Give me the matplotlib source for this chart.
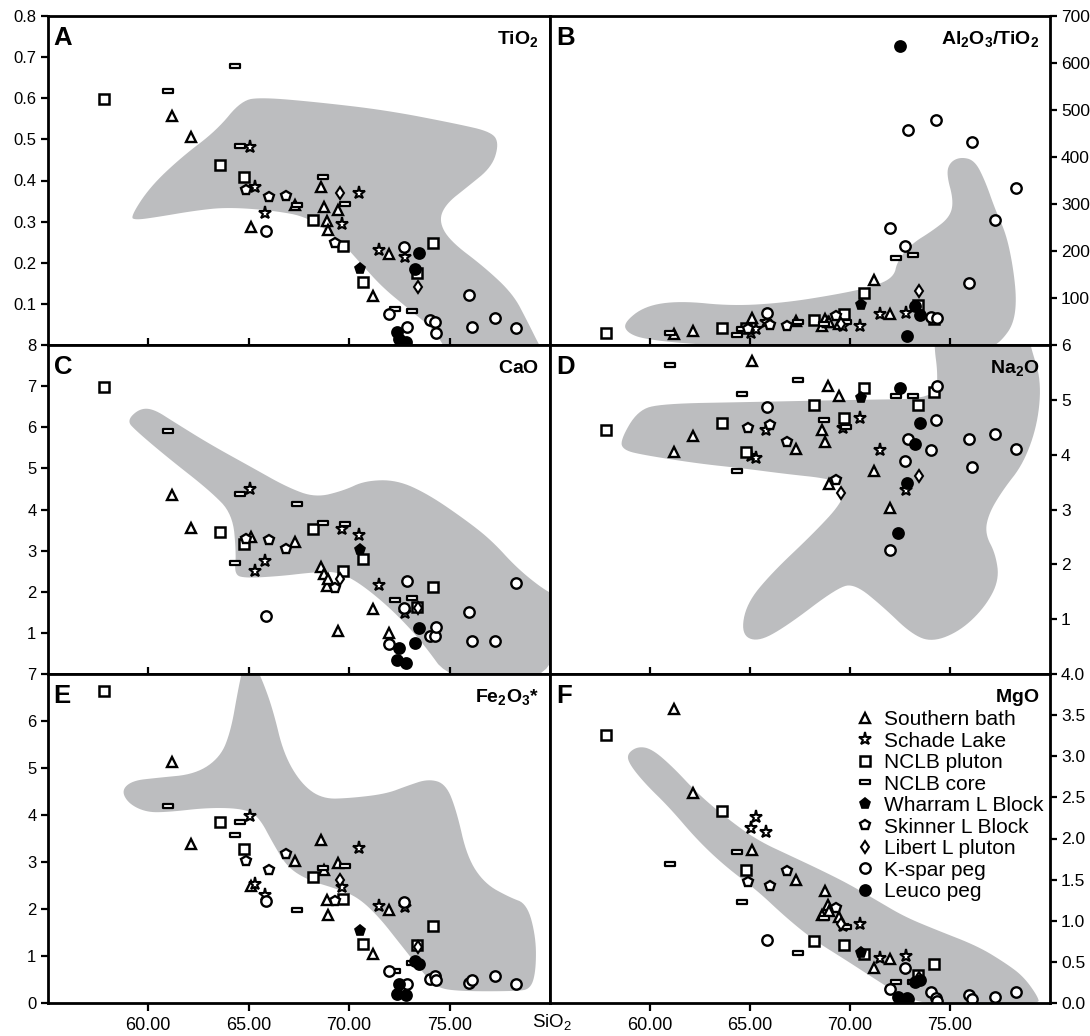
import numpy as np
import matplotlib.pyplot as plt
from matplotlib.path import Path

plt.rcParams['font.family'] = ['Liberation Sans', 'DejaVu Sans']
plt.rcParams['mathtext.fontset'] = 'custom'
plt.rcParams['mathtext.rm'] = 'Liberation Sans'
plt.rcParams['mathtext.it'] = 'Liberation Sans:italic'
plt.rcParams['mathtext.bf'] = 'Liberation Sans:bold'

nan = np.nan

# Southern batholith
sb_sio2 = [61.2, 62.15, 65.1, 67.3, 68.6, 68.75, 68.9, 68.95, 69.45, 71.2, 72.0]
sb_tio2 = [0.558, 0.506, 0.288, 0.34, 0.384, 0.335, 0.301, 0.280, 0.328, 0.120, 0.221]
sb_alti = [23, 30, 57, 52, 41, 55, 50, 48, 45, 138, 67]
sb_cao = [4.35, 3.54, 3.32, 3.20, 2.59, 2.42, 2.14, 2.30, 1.04, 1.59, 1.00]
sb_na2o = [4.05, 4.34, 5.71, 4.11, 4.45, 4.23, 5.25, 3.47, 5.07, 3.70, 3.03]
sb_fe2o3 = [5.12, 3.39, 2.50, 3.03, 3.47, 2.84, 2.20, 1.88, 2.97, 1.05, 1.98]
sb_mgo = [3.58, 2.55, 1.86, 1.49, 1.07, 1.36, 1.19, 1.12, 1.04, 0.42, 0.53]

# Schade Lake
sl_sio2 = [65.05, 65.3, 65.8, 69.65, 70.5, 71.5, 72.8]
sl_tio2 = [0.481, 0.385, 0.321, 0.294, 0.369, 0.231, 0.213]
sl_alti = [26, 33, 48, 41, 41, 65, 69]
sl_cao = [4.50, 2.50, 2.75, 3.52, 3.37, 2.16, 1.49]
sl_na2o = [3.98, 3.94, 4.45, 4.49, 4.67, 4.08, 3.35]
sl_fe2o3 = [3.97, 2.54, 2.29, 2.46, 3.30, 2.06, 2.05]
sl_mgo = [2.13, 2.26, 2.08, 0.94, 0.96, 0.55, 0.57]

# NCLB pluton
np_sio2 = [57.8, 63.6, 64.8, 68.2, 69.7, 70.7, 73.4, 74.2]
np_tio2 = [0.598, 0.438, 0.408, 0.304, 0.241, 0.152, 0.176, 0.247]
np_alti = [26, 36, 37, 53, 65, 111, 85, 55]
np_cao = [6.99, 3.46, 3.15, 3.52, 2.50, 2.80, 1.63, 2.12]
np_na2o = [4.45, 4.57, 4.04, 4.90, 4.67, 5.21, 4.91, 5.15]
np_fe2o3 = [6.63, 3.85, 3.28, 2.69, 2.22, 1.26, 1.23, 1.64]
np_mgo = [3.26, 2.34, 1.62, 0.75, 0.71, 0.59, 0.34, 0.48]

# NCLB core
nc_sio2 = [61.0, 64.35, 64.6, 67.4, 68.7, 69.8, 72.3, 73.15]
nc_tio2 = [0.618, 0.678, 0.485, 0.340, 0.408, 0.343, 0.087, 0.083]
nc_alti = [26, 21, 33, 48, 45, 48, 185, 191]
nc_cao = [5.90, 2.71, 4.37, 4.13, 3.68, 3.64, 1.81, 1.85]
nc_na2o = [5.63, 3.71, 5.10, 5.36, 4.63, 4.50, 5.07, 5.07]
nc_fe2o3 = [4.19, 3.58, 3.85, 1.98, 2.87, 2.91, 0.69, 0.85]
nc_mgo = [1.69, 1.84, 1.23, 0.61, 1.03, 0.93, 0.25, 0.26]

# Wharram Lake Block
wb_sio2 = [70.55]
wb_tio2 = [0.185]
wb_alti = [85]
wb_cao = [3.01]
wb_na2o = [5.04]
wb_fe2o3 = [1.53]
wb_mgo = [0.61]

# Skinner Lake Block
sk_sio2 = [64.9, 66.0, 66.85, 69.3]
sk_tio2 = [0.376, 0.359, 0.363, 0.248]
sk_alti = [34, 43, 41, 62]
sk_cao = [3.28, 3.25, 3.03, 2.10]
sk_na2o = [4.48, 4.55, 4.24, 3.53]
sk_fe2o3 = [3.03, 2.83, 3.16, 2.18]
sk_mgo = [1.47, 1.42, 1.60, 1.16]

# Libert Lake pluton
lb_sio2 = [69.55, 73.45]
lb_tio2 = [0.369, 0.140]
lb_alti = [45, 115]
lb_cao = [2.30, 1.60]
lb_na2o = [3.30, 3.62]
lb_fe2o3 = [2.62, 1.20]
lb_mgo = [0.96, 0.30]

# K-feldspar pegmatite
kp_sio2 = [65.85, 72.0, 72.75, 72.9, 74.05, 74.3, 74.35, 75.95, 76.1, 77.25, 78.3]
kp_tio2 = [0.278, 0.075, 0.239, 0.044, 0.060, 0.057, 0.028, 0.122, 0.044, 0.065, 0.042]
kp_alti = [69, 248, 210, 457, 60, 478, 58, 131, 432, 266, 334]
kp_cao = [1.41, 0.74, 1.61, 2.26, 0.92, 0.93, 1.15, 1.51, 0.80, 0.80, 2.22]
kp_na2o = [4.87, 2.27, 3.88, 4.28, 4.08, 4.64, 5.25, 4.28, 3.78, 4.37, 4.11]
kp_fe2o3 = [2.18, 0.69, 2.15, 0.41, 0.52, 0.57, 0.48, 0.42, 0.48, 0.57, 0.40]
kp_mgo = [0.77, 0.17, 0.42, 0.05, 0.13, 0.06, 0.02, 0.10, 0.05, 0.07, 0.13]

# Leucogranite pegmatite
lp_sio2 = [72.4, 72.5, 72.85, 73.27, 73.5]
lp_tio2 = [0.032, 0.014, 0.008, 0.185, 0.224]
lp_alti = [nan, 637, 19, 83, 64]
lp_cao = [0.35, 0.63, 0.27, 0.76, 1.11]
lp_na2o = [2.57, 5.22, 3.48, 4.19, 4.57]
lp_fe2o3 = [0.20, 0.41, 0.16, 0.89, 0.84]
lp_mgo = [0.07, 0.04, 0.06, 0.26, 0.28]

# outlines of the shaded comparison fields (SiO2, oxide)
tio2_field_x = [59.12, 60.09, 61.67, 63.42, 64.65, 65.70, 68.33, 71.84, 75.35, 77.11, 77.46, 77.11,
                75.88, 74.82, 74.47, 75.0, 76.75, 78.16, 78.86, 79.56, 79.9, 75.0, 74.30, 72.89,
                71.67, 70.61, 69.56, 67.98, 66.23, 63.95, 62.37, 60.44, 59.39]
tio2_field_y = [0.311, 0.384, 0.457, 0.522, 0.595, 0.602, 0.591, 0.571, 0.538, 0.518, 0.489, 0.433,
                0.384, 0.343, 0.302, 0.254, 0.189, 0.124, 0.059, -0.01, -0.03, -0.03, 0.034, 0.091,
                0.140, 0.197, 0.254, 0.311, 0.327, 0.335, 0.327, 0.311, 0.304]
alti_field_x = [58.68, 59.74, 61.49, 64.12, 66.75, 69.39, 71.14, 72.19, 72.37, 73.07, 74.12, 74.99,
                75.18, 74.82, 75.0, 75.53, 76.23, 76.75, 77.28, 77.81, 78.16, 78.33, 78.16, 77.63,
                77.1, 73.77, 66.75, 62.37, 59.74, 58.86]
alti_field_y = [47, 83, 94, 83, 90, 108, 124, 144, 179, 215, 243, 272,
                307, 364, 389, 400, 393, 350, 286, 236, 165, 94, 44, 12,
                -5, -8, -8, 1, 12, 26]
cao_field_x = [58.95, 59.56, 60.26, 61.32, 63.07, 65.18, 66.93, 68.33, 69.74, 70.79, 72.37, 73.95,
               75.88, 77.11, 78.33, 79.56, 80.3, 80.3, 75.09, 73.60, 72.37, 71.14, 70.09, 69.21,
               67.98, 66.58, 64.82, 64.30, 64.39, 64.21, 63.07, 60.96, 59.39]
cao_field_y = [6.16, 6.45, 6.45, 6.12, 5.59, 5.02, 4.54, 4.29, 4.46, 4.70, 4.72, 4.37,
               3.72, 3.24, 2.59, 2.10, 1.9, -0.2, -0.2, 0.80, 1.45, 1.98, 2.34, 2.50,
               2.46, 2.38, 2.33, 2.42, 2.91, 3.89, 4.46, 5.27, 5.92]
na2o_field_x = [58.51, 59.39, 60.61, 65.0, 70.26, 74.30, 74.39, 74.2, 74.3, 78.8, 79.03, 79.56,
                79.39, 78.68, 77.63, 76.93, 76.75, 77.28, 77.46, 76.75, 75.53, 74.12, 73.07, 71.67,
                70.26, 69.39, 66.75, 65.35, 64.56, 64.82, 66.05, 68.16, 69.56, 69.74, 69.04, 66.75,
                64.65, 62.37, 59.74, 58.68]
na2o_field_y = [4.26, 4.81, 4.93, 4.96, 5.0, 5.02, 5.48, 6.0, 6.4, 6.4, 5.97, 5.36,
                4.57, 3.84, 3.35, 2.92, 2.56, 2.19, 1.71, 1.22, 0.79, 0.58, 0.73, 1.22,
                1.64, 1.58, 0.85, 0.58, 0.73, 1.28, 1.83, 2.56, 3.11, 3.41, 3.56, 3.65,
                3.75, 3.84, 3.99, 4.08]
fe2o3_field_x = [58.68, 59.21, 60.44, 62.37, 63.60, 64.12, 64.47, 64.75, 65.2, 65.70, 66.23, 66.75,
                 67.63, 68.68, 70.09, 71.84, 72.89, 73.95, 74.82, 75.35, 75.88, 76.75, 77.98, 78.86,
                 79.30, 79.30, 79.04, 78.33, 75.35, 74.30, 73.60, 72.54, 71.49, 70.44, 69.39, 67.98,
                 66.93, 66.23, 65.53, 64.82, 63.07, 60.96, 59.91, 59.04]
fe2o3_field_y = [4.52, 4.73, 4.79, 4.87, 5.23, 5.79, 6.64, 7.2, 7.3, 6.86, 6.22, 5.30,
                 4.66, 4.34, 4.36, 4.45, 4.62, 4.77, 4.66, 4.09, 3.10, 2.54, 2.25, 2.11,
                 1.40, 0.69, 0.30, 0.25, 0.25, 0.34, 0.69, 1.26, 1.83, 2.25, 2.43, 2.61,
                 2.89, 3.39, 3.95, 4.13, 4.16, 4.06, 4.06, 4.24]
mgo_field_x = [58.86, 59.39, 60.09, 61.14, 62.37, 63.77, 65.35, 67.11, 68.51, 69.91, 71.32, 72.72,
               74.30, 76.40, 77.81, 78.68, 79.39, 79.47, 74.65, 72.89, 71.32, 69.74, 68.16, 66.75,
               65.35, 63.77, 62.37, 60.96, 59.74, 58.95]
mgo_field_y = [3.03, 3.12, 3.09, 2.87, 2.55, 2.26, 1.98, 1.78, 1.62, 1.45, 1.25, 1.05,
               0.89, 0.69, 0.48, 0.32, 0.08, -0.02, -0.03, 0.04, 0.28, 0.53, 0.77, 1.05,
               1.37, 1.66, 1.98, 2.38, 2.67, 2.91]

# flat rectangle used for the NCLB core samples
core_marker = Path([(-1, -0.45), (1, -0.45), (1, 0.45), (-1, 0.45), (-1, -0.45)],
                   [Path.MOVETO, Path.LINETO, Path.LINETO, Path.LINETO, Path.CLOSEPOLY])

series = [
    ('Southern bath', dict(marker='^', ms=7.5, mfc='white', mew=1.7),
     sb_sio2, dict(tio2=sb_tio2, alti=sb_alti, cao=sb_cao, na2o=sb_na2o, fe2o3=sb_fe2o3, mgo=sb_mgo)),
    ('Schade Lake', dict(marker='*', ms=9.5, mfc='white', mew=1.5),
     sl_sio2, dict(tio2=sl_tio2, alti=sl_alti, cao=sl_cao, na2o=sl_na2o, fe2o3=sl_fe2o3, mgo=sl_mgo)),
    ('NCLB pluton', dict(marker='s', ms=7, mfc='white', mew=1.8),
     np_sio2, dict(tio2=np_tio2, alti=np_alti, cao=np_cao, na2o=np_na2o, fe2o3=np_fe2o3, mgo=np_mgo)),
    ('NCLB core', dict(marker=core_marker, ms=7.5, mfc='white', mew=1.6),
     nc_sio2, dict(tio2=nc_tio2, alti=nc_alti, cao=nc_cao, na2o=nc_na2o, fe2o3=nc_fe2o3, mgo=nc_mgo)),
    ('Wharram L Block', dict(marker='p', ms=8, mfc='black', mew=1.2),
     wb_sio2, dict(tio2=wb_tio2, alti=wb_alti, cao=wb_cao, na2o=wb_na2o, fe2o3=wb_fe2o3, mgo=wb_mgo)),
    ('Skinner L Block', dict(marker='p', ms=7.5, mfc='white', mew=1.7),
     sk_sio2, dict(tio2=sk_tio2, alti=sk_alti, cao=sk_cao, na2o=sk_na2o, fe2o3=sk_fe2o3, mgo=sk_mgo)),
    ('Libert L pluton', dict(marker='d', ms=6, mfc='white', mew=1.5),
     lb_sio2, dict(tio2=lb_tio2, alti=lb_alti, cao=lb_cao, na2o=lb_na2o, fe2o3=lb_fe2o3, mgo=lb_mgo)),
    ('K-spar peg', dict(marker='o', ms=7.5, mfc='white', mew=1.7),
     kp_sio2, dict(tio2=kp_tio2, alti=kp_alti, cao=kp_cao, na2o=kp_na2o, fe2o3=kp_fe2o3, mgo=kp_mgo)),
    ('Leuco peg', dict(marker='o', ms=8, mfc='black', mew=1.2),
     lp_sio2, dict(tio2=lp_tio2, alti=lp_alti, cao=lp_cao, na2o=lp_na2o, fe2o3=lp_fe2o3, mgo=lp_mgo)),
]

# key, letter, title, ylim, ticks, tick labels, field outline
panels = [
    ('tio2', 'A', r'$\mathbf{TiO_2}$', (0, 0.8), np.arange(1, 9) / 10,
     ['0.1', '0.2', '0.3', '0.4', '0.5', '0.6', '0.7', '0.8'], tio2_field_x, tio2_field_y),
    ('alti', 'B', r'$\mathbf{Al_2O_3/TiO_2}$', (0, 700), [100, 200, 300, 400, 500, 600, 700],
     ['100', '200', '300', '400', '500', '600', '700'], alti_field_x, alti_field_y),
    ('cao', 'C', r'$\mathbf{CaO}$', (0, 8), [1, 2, 3, 4, 5, 6, 7, 8],
     ['1', '2', '3', '4', '5', '6', '7', '8'], cao_field_x, cao_field_y),
    ('na2o', 'D', r'$\mathbf{Na_2O}$', (0, 6), [1, 2, 3, 4, 5, 6],
     ['1', '2', '3', '4', '5', '6'], na2o_field_x, na2o_field_y),
    ('fe2o3', 'E', r'$\mathbf{Fe_2O_3}$*', (0, 7), [0, 1, 2, 3, 4, 5, 6, 7],
     ['0', '1', '2', '3', '4', '5', '6', '7'], fe2o3_field_x, fe2o3_field_y),
    ('mgo', 'F', r'$\mathbf{MgO}$', (0, 4), [0, 0.5, 1, 1.5, 2, 2.5, 3, 3.5, 4],
     ['0.0', '0.5', '1.0', '1.5', '2.0', '2.5', '3.0', '3.5', '4.0'], mgo_field_x, mgo_field_y),
]


def smooth_outline(x, y, passes=3):
    # corner cutting to round off the field outline
    pts = np.column_stack([x, y]).astype(float)
    for _ in range(passes):
        nxt = np.roll(pts, -1, axis=0)
        out = np.empty((2 * len(pts), 2))
        out[0::2] = 0.75 * pts + 0.25 * nxt
        out[1::2] = 0.25 * pts + 0.75 * nxt
        pts = out
    return pts[:, 0], pts[:, 1]


W, H = 1090, 1036
fig = plt.figure(figsize=(W / 100, H / 100), dpi=100)

col_x = [47.5, 550]
col_w = [502.5, 500]
row_top = [16, 345, 674]
row_h = 329

for i, (key, letter, title, ylim, ticks, labels, fx, fy) in enumerate(panels):
    r, c = divmod(i, 2)
    ax = fig.add_axes([col_x[c] / W, 1 - (row_top[r] + row_h) / H, col_w[c] / W, row_h / H])

    sx, sy = smooth_outline(fx, fy)
    ax.fill(sx, sy, color='#bcbdbf', lw=0, zorder=1)

    for name, style, sio2, vals in series:
        ax.plot(sio2, vals[key], ls='none', mec='black', label=name, zorder=3, **style)

    ax.set_xlim(55, 80)
    ax.set_ylim(*ylim)
    ax.set_xticks([60, 65, 70, 75])
    ax.set_yticks(ticks)
    ax.set_yticklabels(labels)

    for sp in ax.spines.values():
        sp.set_linewidth(2.0)
        sp.set_zorder(5)

    if c == 1:
        ax.yaxis.tick_right()
        ax.tick_params(axis='y', direction='out', length=5, width=1.6, labelsize=12.5, pad=3)
    else:
        ax.tick_params(axis='y', direction='out', length=5, width=1.6, labelsize=12, pad=3)
    if r == 2:
        ax.set_xticklabels(['60.00', '65.00', '70.00', '75.00'])
        ax.tick_params(axis='x', direction='out', length=6, width=1.6, labelsize=13, pad=4)
    else:
        ax.set_xticklabels([])
        ax.tick_params(axis='x', direction='in', length=5, width=1.6)

    ax.text(0.012, 0.912, letter, transform=ax.transAxes, fontsize=18.5, fontweight='bold',
            va='baseline', ha='left', zorder=6)
    ax.text(0.978, 0.915, title, transform=ax.transAxes, fontsize=14, fontweight='bold',
            va='baseline', ha='right', zorder=6)

    if key == 'mgo':
        ax.legend(loc='upper left', bbox_to_anchor=(0.614, 0.89), frameon=False, fontsize=15,
                  handlelength=0.8, handletextpad=0.5, labelspacing=0.12, borderaxespad=0,
                  borderpad=0)

fig.text(552 / W, 1 - 1022 / H, 'SiO$_2$', ha='center', va='center', fontsize=13.5)

fig.savefig('out.png', dpi=100)
